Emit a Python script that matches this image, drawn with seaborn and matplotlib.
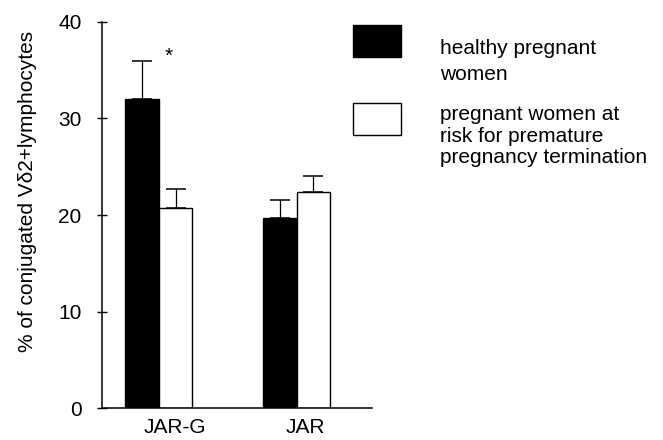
import numpy as np
import pandas as pd
import matplotlib
matplotlib.use("Agg")
import matplotlib.pyplot as plt
from matplotlib.patches import Rectangle
import seaborn as sns

# Target cell lines and the two donor cohorts
groups = ["JAR-G", "JAR"]
cohorts = ["healthy pregnant women",
           "pregnant women at risk for premature pregnancy termination"]
legend_lines = [["healthy pregnant", "women"],
                ["pregnant women at", "risk for premature", "pregnancy termination"]]
colors = ["black", "white"]

# Mean percentage of conjugated cells and upper error (SEM)
healthy_mean = [32.0, 19.7]
healthy_err = [3.9, 1.9]
risk_mean = [20.7, 22.4]
risk_err = [2.0, 1.6]

yticks = [0, 10, 20, 30, 40]
ylabel = "% of conjugated V\u03b42+lymphocytes"
signif_mark = "*"
signif_pos = (0.068, 35.8)

sns.set_theme(style="white")
plt.rcParams["font.family"] = ["Liberation Sans", "DejaVu Sans"]
plt.rcParams["axes.linewidth"] = 1.0

df = pd.DataFrame({
    "group": groups * 2,
    "cohort": [cohorts[0]] * len(groups) + [cohorts[1]] * len(groups),
    "value": healthy_mean + risk_mean,
})

fig = plt.figure(figsize=(6.63, 4.40), dpi=100)
ax = fig.add_axes([0.1538, 0.0720, 0.4072, 0.8786])

sns.barplot(data=df, x="group", y="value", hue="cohort",
            order=groups, hue_order=cohorts, palette=colors,
            saturation=1, edgecolor="black", linewidth=1.0,
            width=0.487, errorbar=None, legend=False, ax=ax)

# One-sided error bars on top of every bar
for container, means, errs in zip(ax.containers, [healthy_mean, risk_mean],
                                  [healthy_err, risk_err]):
    for bar, m, e in zip(container, means, errs):
        xc = bar.get_x() + bar.get_width() / 2
        ax.errorbar(xc, m, yerr=[[0], [e]], fmt="none", ecolor="black",
                    elinewidth=0.9, capsize=7.2, capthick=1.1, zorder=3)

ax.text(signif_pos[0], signif_pos[1], signif_mark, ha="center",
        va="baseline", fontsize=15, color="black")

ax.set_xlim(-0.414, 1.547)
ax.set_ylim(0, 40)
ax.set_yticks(yticks)
ax.set_xticks([0.115, 1.065], groups)
ax.set_xlabel("")
ax.set_ylabel(ylabel, fontsize=15, color="black", va="center", ha="center")
ax.yaxis.set_label_coords(-0.274, 0.562)

ax.tick_params(axis="y", direction="inout", length=7.2, width=1.0,
               pad=11, labelsize=15, colors="black", left=True)
ax.tick_params(axis="x", length=0, pad=6.8, labelsize=15, colors="black")
sns.despine(ax=ax)
for side in ("left", "bottom"):
    ax.spines[side].set_color("black")
    ax.spines[side].set_linewidth(1.1)

# Legend: swatches with wrapped cohort descriptions
W, H = 663.0, 440.0
swatch_tops = [25.0, 103.3]
baselines = [[53.5, 80.5], [119.5, 141.5, 163.0]]
for color, top, lines, bls in zip(colors, swatch_tops, legend_lines, baselines):
    fig.patches.append(Rectangle((353 / W, 1 - (top + 31.7) / H), 48 / W, 31.7 / H,
                                 transform=fig.transFigure, facecolor=color,
                                 edgecolor="black", linewidth=1.0))
    for line, bl in zip(lines, bls):
        fig.text(440 / W, 1 - bl / H, line, ha="left", va="baseline",
                 fontsize=15, color="black")

fig.savefig("out.png", dpi=100, facecolor="white")
